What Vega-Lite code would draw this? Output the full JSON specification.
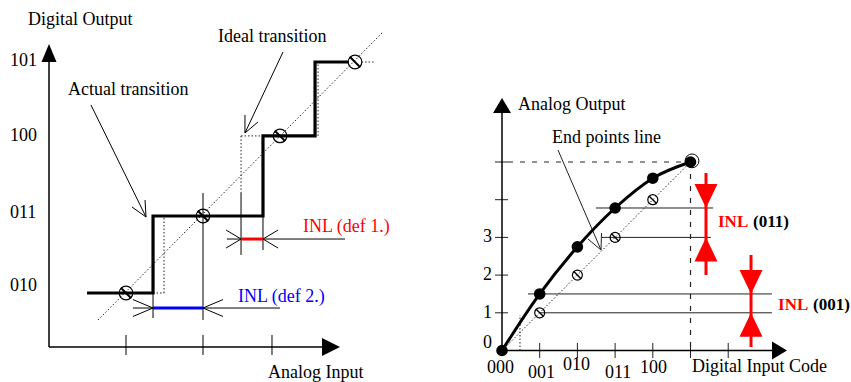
{
  "$schema": "https://vega.github.io/schema/vega-lite/v6.json",
  "padding": 0,
  "bounds": "flush",
  "spacing": 0,
  "background": "white",
  "resolve": {"scale": {"x": "independent", "y": "independent", "color": "independent", "shape": "independent"}},
  "config": {
    "view": {"stroke": null},
    "text": {"font": "Liberation Serif", "fontSize": 18, "baseline": "middle", "align": "left"}
  },
  "datasets": {
    "L_axis": [
      {"x": 1, "y": 1.3, "x2": 1, "y2": 5.0},
      {"x": 1, "y": 1.3, "x2": 4.56, "y2": 1.3}
    ],
    "L_thin": [
      {"x": 2, "y": 1.455, "x2": 2, "y2": 1.195},
      {"x": 3, "y": 1.455, "x2": 3, "y2": 1.195},
      {"x": 3.896, "y": 1.455, "x2": 3.896, "y2": 1.195},
      {"x": 3, "y": 3.299, "x2": 3, "y2": 1.649},
      {"x": 2.351, "y": 2, "x2": 2.351, "y2": 1.675},
      {"x": 3.494, "y": 3.299, "x2": 3.494, "y2": 2.494},
      {"x": 3.779, "y": 3, "x2": 3.779, "y2": 2.558},
      {"x": 2.09, "y": 1.805, "x2": 2.351, "y2": 1.805},
      {"x": 3, "y": 1.805, "x2": 4.0, "y2": 1.805},
      {"x": 2.09, "y": 1.915, "x2": 2.351, "y2": 1.805},
      {"x": 2.09, "y": 1.695, "x2": 2.351, "y2": 1.805},
      {"x": 3.26, "y": 1.915, "x2": 3, "y2": 1.805},
      {"x": 3.26, "y": 1.695, "x2": 3, "y2": 1.805},
      {"x": 3.31, "y": 2.701, "x2": 3.494, "y2": 2.701},
      {"x": 3.779, "y": 2.701, "x2": 4.844, "y2": 2.701},
      {"x": 3.3, "y": 2.818, "x2": 3.494, "y2": 2.701},
      {"x": 3.3, "y": 2.584, "x2": 3.494, "y2": 2.701},
      {"x": 3.975, "y": 2.818, "x2": 3.779, "y2": 2.701},
      {"x": 3.975, "y": 2.584, "x2": 3.779, "y2": 2.701},
      {"x": 1.545, "y": 4.442, "x2": 2.26, "y2": 2.987},
      {"x": 2.078, "y": 3.117, "x2": 2.26, "y2": 2.987},
      {"x": 2.247, "y": 3.208, "x2": 2.26, "y2": 2.987},
      {"x": 4.039, "y": 5.13, "x2": 3.545, "y2": 4.078},
      {"x": 3.714, "y": 4.221, "x2": 3.545, "y2": 4.078},
      {"x": 3.545, "y": 4.312, "x2": 3.545, "y2": 4.078}
    ],
    "L_dot": [
      {"x": 1.636, "y": 1.649, "x2": 5.338, "y2": 5.39},
      {"x": 2.494, "y": 2, "x2": 2.494, "y2": 2.974},
      {"x": 2.351, "y": 2, "x2": 2.494, "y2": 2},
      {"x": 3.494, "y": 4.04, "x2": 3.494, "y2": 3.299},
      {"x": 3.494, "y": 4.04, "x2": 3.779, "y2": 4.04},
      {"x": 4.494, "y": 4.04, "x2": 4.494, "y2": 5.0},
      {"x": 5.06, "y": 5.0, "x2": 5.234, "y2": 5.0}
    ],
    "L_inl": [
      {"x": 2.351, "y": 1.805, "x2": 3.0, "y2": 1.805, "def": "def 2"},
      {"x": 3.494, "y": 2.701, "x2": 3.779, "y2": 2.701, "def": "def 1"}
    ],
    "L_step": [
      {"i": 1, "x": 1.494, "y": 2},
      {"i": 2, "x": 2.351, "y": 2},
      {"i": 3, "x": 2.351, "y": 3},
      {"i": 4, "x": 3.779, "y": 3},
      {"i": 5, "x": 3.779, "y": 4.04},
      {"i": 6, "x": 4.455, "y": 4.04},
      {"i": 7, "x": 4.455, "y": 5},
      {"i": 8, "x": 4.89, "y": 5}
    ],
    "L_circ": [
      {"x": 2, "y": 2}, {"x": 3, "y": 3}, {"x": 4, "y": 4.04}, {"x": 4.974, "y": 5}
    ],
    "L_arrow": [
      {"x": 1, "y": 5.234, "d": "up"},
      {"x": 4.779, "y": 1.3, "d": "right"}
    ],
    "L_text": [
      {"x": 0.727, "y": 5.545, "t": "Digital Output"},
      {"x": 0.494, "y": 5.013, "t": "101"},
      {"x": 0.494, "y": 4.039, "t": "100"},
      {"x": 0.494, "y": 3.039, "t": "011"},
      {"x": 0.494, "y": 2.091, "t": "010"},
      {"x": 1.247, "y": 4.636, "t": "Actual transition"},
      {"x": 3.195, "y": 5.325, "t": "Ideal transition"},
      {"x": 3.844, "y": 0.961, "t": "Analog Input"}
    ],
    "L_ctext": [
      {"x": 4.299, "y": 2.857, "t": "INL (def 1.)", "def": "def 1"},
      {"x": 3.455, "y": 1.948, "t": "INL (def 2.)", "def": "def 2"}
    ],
    "R_axis": [
      {"x": 0, "y": 0, "x2": 0, "y2": 6.3},
      {"x": 0, "y": 0, "x2": 7.16, "y2": 0}
    ],
    "R_thin": [
      {"x": -0.186, "y": 1, "x2": 0.159, "y2": 1},
      {"x": -0.186, "y": 2, "x2": 0.159, "y2": 2},
      {"x": -0.186, "y": 3, "x2": 0.159, "y2": 3},
      {"x": -0.186, "y": 4, "x2": 0.159, "y2": 4},
      {"x": -0.186, "y": 5, "x2": 0.159, "y2": 5},
      {"x": 1, "y": 0.2, "x2": 1, "y2": -0.2},
      {"x": 2, "y": 0.2, "x2": 2, "y2": -0.2},
      {"x": 3, "y": 0.2, "x2": 3, "y2": -0.2},
      {"x": 4, "y": 0.2, "x2": 4, "y2": -0.2},
      {"x": 5, "y": 0.2, "x2": 5, "y2": -0.2},
      {"x": 6, "y": 0.2, "x2": 6, "y2": -0.2},
      {"x": 0.69, "y": 1.5, "x2": 7.16, "y2": 1.5},
      {"x": 1.0, "y": 1.0, "x2": 7.16, "y2": 1.0},
      {"x": 2.49, "y": 3.78, "x2": 5.6, "y2": 3.78},
      {"x": 2.65, "y": 3.0, "x2": 5.54, "y2": 3.0},
      {"x": 1.485, "y": 5.318, "x2": 2.626, "y2": 2.666},
      {"x": 2.281, "y": 2.958, "x2": 2.626, "y2": 2.666},
      {"x": 2.639, "y": 3.117, "x2": 2.626, "y2": 2.666}
    ],
    "R_dash": [
      {"x": 0.159, "y": 5, "x2": 5, "y2": 5},
      {"x": 5, "y": 5, "x2": 5, "y2": 0}
    ],
    "R_dot": [
      {"x": 0, "y": 0, "x2": 5, "y2": 5},
      {"x": 0.477, "y": 0, "x2": 0.477, "y2": 0.942}
    ],
    "R_curve": [
      {"i": 0, "x": 0, "y": 0},
      {"i": 1, "x": 1, "y": 1.5},
      {"i": 2, "x": 2, "y": 2.75},
      {"i": 3, "x": 3, "y": 3.78},
      {"i": 4, "x": 4, "y": 4.57},
      {"i": 5, "x": 5, "y": 5}
    ],
    "R_open": [
      {"x": 1, "y": 1}, {"x": 2, "y": 2}, {"x": 3, "y": 3}, {"x": 4, "y": 4}
    ],
    "R_end": [
      {"x": 5.04, "y": 5.03}
    ],
    "R_red": [
      {"x": 5.411, "y": 4.708, "x2": 5.411, "y2": 2.003},
      {"x": 6.605, "y": 2.533, "x2": 6.605, "y2": 0.093}
    ],
    "R_arrow": [
      {"x": 0, "y": 6.698, "d": "aup"},
      {"x": 7.56, "y": 0, "d": "aright"}
    ],
    "R_tri": [
      {"x": 5.411, "y": 3.78, "d": "down"},
      {"x": 5.411, "y": 3.0, "d": "up"},
      {"x": 6.605, "y": 1.5, "d": "down"},
      {"x": 6.605, "y": 1.0, "d": "up"}
    ],
    "R_text": [
      {"x": 0.424, "y": 6.512, "t": "Analog Output"},
      {"x": 1.326, "y": 5.637, "t": "End points line"},
      {"x": 5.04, "y": -0.438, "t": "Digital Input Code"},
      {"x": -0.504, "y": 3, "t": "3"},
      {"x": -0.504, "y": 2, "t": "2"},
      {"x": -0.504, "y": 1, "t": "1"},
      {"x": -0.504, "y": 0.199, "t": "0"},
      {"x": -0.398, "y": -0.464, "t": "000"},
      {"x": 0.69, "y": -0.61, "t": "001"},
      {"x": 1.618, "y": -0.39, "t": "010"},
      {"x": 2.732, "y": -0.61, "t": "011"},
      {"x": 3.66, "y": -0.451, "t": "100"}
    ],
    "R_btext": [
      {"x": 5.729, "y": 3.408, "t": "INL", "p": "inl"},
      {"x": 6.658, "y": 3.408, "t": "(011)", "p": "code"},
      {"x": 7.321, "y": 1.207, "t": "INL", "p": "inl"},
      {"x": 8.249, "y": 1.207, "t": "(001)", "p": "code"}
    ]
  },
  "hconcat": [
    {
      "width": 430,
      "height": 382,
      "encoding": {
        "x": {"field": "x", "type": "quantitative", "axis": null, "scale": {"domain": [0.3636, 5.948], "nice": false, "zero": false}},
        "y": {"field": "y", "type": "quantitative", "axis": null, "scale": {"domain": [0.8442, 5.8052], "nice": false, "zero": false}}
      },
      "layer": [
        {"data": {"name": "L_dot"}, "mark": {"type": "rule", "strokeDash": [1.5, 2], "strokeWidth": 1, "color": "#222"},
         "encoding": {"x2": {"field": "x2"}, "y2": {"field": "y2"}}},
        {"data": {"name": "L_thin"}, "mark": {"type": "rule", "strokeWidth": 1, "color": "#000"},
         "encoding": {"x2": {"field": "x2"}, "y2": {"field": "y2"}}},
        {"data": {"name": "L_axis"}, "mark": {"type": "rule", "strokeWidth": 1.5, "color": "#000"},
         "encoding": {"x2": {"field": "x2"}, "y2": {"field": "y2"}}},
        {"data": {"name": "L_inl"}, "mark": {"type": "rule", "strokeWidth": 3},
         "encoding": {"x2": {"field": "x2"}, "y2": {"field": "y2"},
           "color": {"field": "def", "type": "nominal", "legend": null, "scale": {"domain": ["def 1", "def 2"], "range": ["#ff0000", "#0000ff"]}}}},
        {"data": {"name": "L_step"}, "mark": {"type": "line", "strokeWidth": 3.2, "color": "#000"},
         "encoding": {"order": {"field": "i", "type": "quantitative"}}},
        {"data": {"name": "L_circ"}, "mark": {"type": "point", "shape": "circle", "size": 185, "filled": false, "stroke": "#000", "strokeWidth": 1.2, "opacity": 1}},
        {"data": {"name": "L_circ"}, "mark": {"type": "point", "shape": "M-0.52,-0.52L0.52,0.52", "size": 400, "filled": false, "stroke": "#000", "strokeWidth": 2, "opacity": 1}},
        {"data": {"name": "L_arrow"}, "mark": {"type": "point", "size": 400, "filled": true, "color": "#000", "opacity": 1},
         "encoding": {"shape": {"field": "d", "type": "nominal", "legend": null, "scale": {"domain": ["up", "right"], "range": ["M0,0L-0.75,1.8L0.75,1.8Z", "M0,0L-1.8,-0.9L-1.8,0.9Z"]}}}},
        {"data": {"name": "L_text"}, "mark": {"type": "text", "color": "#000"},
         "encoding": {"text": {"field": "t"}}},
        {"data": {"name": "L_ctext"}, "mark": {"type": "text"},
         "encoding": {"text": {"field": "t"},
           "color": {"field": "def", "type": "nominal", "legend": null, "scale": {"domain": ["def 1", "def 2"], "range": ["#ff0000", "#0000ff"]}}}}
      ]
    },
    {
      "width": 421,
      "height": 382,
      "encoding": {
        "x": {"field": "x", "type": "quantitative", "axis": null, "scale": {"domain": [-1.9098, 9.257], "nice": false, "zero": false}},
        "y": {"field": "y", "type": "quantitative", "axis": null, "scale": {"domain": [-0.8355, 9.297], "nice": false, "zero": false}}
      },
      "layer": [
        {"data": {"name": "R_dot"}, "mark": {"type": "rule", "strokeDash": [1.5, 2], "strokeWidth": 1, "color": "#222"},
         "encoding": {"x2": {"field": "x2"}, "y2": {"field": "y2"}}},
        {"data": {"name": "R_dash"}, "mark": {"type": "rule", "strokeDash": [5, 7], "strokeWidth": 1.2, "color": "#222"},
         "encoding": {"x2": {"field": "x2"}, "y2": {"field": "y2"}}},
        {"data": {"name": "R_thin"}, "mark": {"type": "rule", "strokeWidth": 1, "color": "#222"},
         "encoding": {"x2": {"field": "x2"}, "y2": {"field": "y2"}}},
        {"data": {"name": "R_axis"}, "mark": {"type": "rule", "strokeWidth": 1.5, "color": "#000"},
         "encoding": {"x2": {"field": "x2"}, "y2": {"field": "y2"}}},
        {"data": {"name": "R_red"}, "mark": {"type": "rule", "strokeWidth": 3, "color": "#ff0000"},
         "encoding": {"x2": {"field": "x2"}, "y2": {"field": "y2"}}},
        {"data": {"name": "R_end"}, "mark": {"type": "point", "shape": "circle", "size": 190, "filled": false, "stroke": "#000", "strokeWidth": 1, "opacity": 1}},
        {"data": {"name": "R_curve"}, "mark": {"type": "line", "strokeWidth": 3, "color": "#000", "interpolate": "monotone"},
         "encoding": {"order": {"field": "i", "type": "quantitative"}}},
        {"data": {"name": "R_curve"}, "mark": {"type": "point", "shape": "circle", "size": 135, "filled": true, "color": "#000", "opacity": 1}},
        {"data": {"name": "R_open"}, "mark": {"type": "point", "shape": "circle", "size": 100, "filled": false, "stroke": "#000", "strokeWidth": 1.2, "opacity": 1}},
        {"data": {"name": "R_open"}, "mark": {"type": "point", "shape": "M-0.38,-0.38L0.38,0.38", "size": 400, "filled": false, "stroke": "#000", "strokeWidth": 1.4, "opacity": 1}},
        {"data": {"name": "R_arrow"}, "mark": {"type": "point", "size": 400, "filled": true, "color": "#000", "opacity": 1},
         "encoding": {"shape": {"field": "d", "type": "nominal", "legend": null, "scale": {"domain": ["aup", "aright", "down", "up"], "range": ["M0,0L-0.9,1.5L0.9,1.5Z", "M0,0L-1.5,-0.9L-1.5,0.9Z", "M0,0L-1.15,-2.4L1.15,-2.4Z", "M0,0L-1.15,2.4L1.15,2.4Z"]}}}},
        {"data": {"name": "R_tri"}, "mark": {"type": "point", "size": 400, "filled": true, "color": "#ff0000", "opacity": 1},
         "encoding": {"shape": {"field": "d", "type": "nominal", "legend": null, "scale": {"domain": ["aup", "aright", "down", "up"], "range": ["M0,0L-0.9,1.5L0.9,1.5Z", "M0,0L-1.5,-0.9L-1.5,0.9Z", "M0,0L-1.15,-2.4L1.15,-2.4Z", "M0,0L-1.15,2.4L1.15,2.4Z"]}}}},
        {"data": {"name": "R_text"}, "mark": {"type": "text", "color": "#000"},
         "encoding": {"text": {"field": "t"}}},
        {"data": {"name": "R_btext"}, "mark": {"type": "text", "fontWeight": "bold", "fontSize": 17},
         "encoding": {"text": {"field": "t"},
           "color": {"field": "p", "type": "nominal", "legend": null, "scale": {"domain": ["inl", "code"], "range": ["#ff0000", "#000000"]}}}}
      ]
    }
  ]
}
